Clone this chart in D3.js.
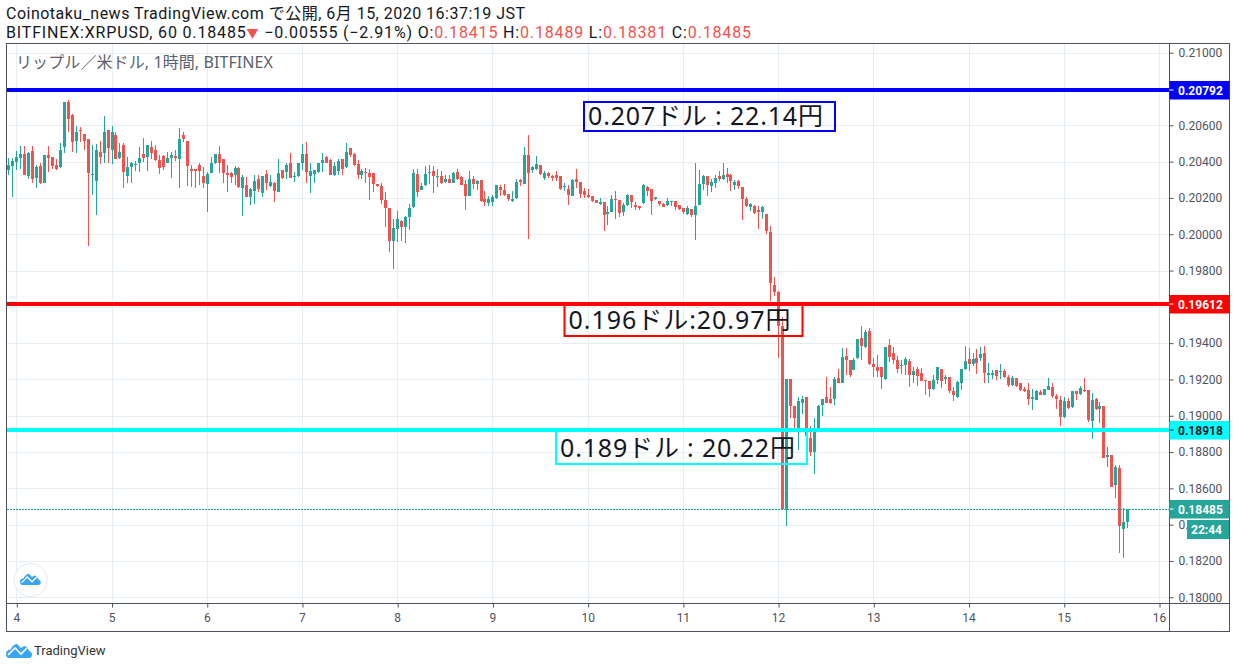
<!DOCTYPE html>
<html>
<head>
<meta charset="utf-8">
<title>XRPUSD</title>
<script src="https://cdn.jsdelivr.net/npm/d3@7"></script>
<style>
  html, body { margin: 0; padding: 0; background: #fff; }
  svg { display: block; }
  text { font-family: "Noto Sans", "Noto Sans CJK JP", sans-serif; }
  .header { font-family: Roboto, "Noto Sans CJK JP", sans-serif; font-size: 16px; }
  .axis text { font-family: Roboto, sans-serif; font-size: 12px; fill: #50535e; }
  .axis path, .axis line { stroke: #4c525e; }
</style>
</head>
<body>
<div id="chart"></div>
<script>
// hourly candles as [open, high, low, close] in 0.00001 dollar units
const day3 = [
  [20353,20421,20329,20381],[20377,20421,20206,20403]
];
const day4 = [
  [20399,20458,20353,20423],[20419,20485,20357,20441],[20441,20487,20326,20326],[20320,20454,20307,20449],
  [20458,20485,20280,20307],[20311,20381,20256,20372],[20375,20390,20276,20280],[20283,20436,20283,20436],
  [20436,20485,20344,20421],[20423,20423,20357,20377],[20381,20412,20353,20357],[20368,20500,20366,20463],
  [20482,20728,20449,20728],[20728,20739,20564,20636],[20656,20660,20454,20509],[20513,20596,20449,20563],
  [20574,20588,20509,20570],[20550,20550,20463,20513],[20524,20524,19934,20338],[20324,20491,20215,20333],
  [20292,20495,20105,20463],[20454,20513,20386,20427],[20449,20651,20390,20563],[20574,20574,20390,20473]
];
const day5 = [
  [20463,20596,20386,20565],[20546,20564,20416,20416],[20419,20500,20416,20452],[20494,20500,20256,20344],
  [20322,20427,20280,20368],[20372,20399,20283,20395],[20384,20405,20349,20388],[20394,20482,20344,20419],
  [20441,20528,20399,20421],[20427,20491,20349,20491],[20482,20515,20412,20449],[20463,20491,20405,20408],
  [20408,20436,20331,20366],[20432,20436,20353,20372],[20395,20454,20390,20421],[20421,20454,20311,20436],
  [20430,20463,20403,20421],[20416,20583,20256,20524],[20546,20561,20509,20522],[20513,20513,20265,20375],
  [20357,20384,20261,20349],[20357,20357,20256,20348],[20381,20390,20270,20348],[20322,20372,20252,20283]
];
const day6 = [
  [20276,20344,20123,20331],[20338,20427,20335,20394],[20390,20441,20386,20441],[20441,20485,20335,20394],
  [20412,20412,20283,20335],[20338,20381,20234,20329],[20335,20344,20280,20316],[20326,20375,20270,20366],
  [20366,20372,20252,20261],[20256,20329,20100,20316],[20270,20316,20206,20206],[20206,20252,20160,20247],
  [20239,20326,20169,20291],[20307,20326,20234,20250],[20228,20322,20206,20322],[20331,20353,20243,20280],
  [20267,20326,20261,20289],[20280,20285,20179,20237],[20234,20414,20234,20337],[20353,20353,20303,20309],
  [20344,20395,20303,20381],[20395,20450,20311,20311],[20316,20344,20289,20320],[20320,20395,20316,20395]
];
const day7 = [
  [20394,20496,20353,20441],[20441,20507,20280,20344],[20322,20395,20228,20346],[20331,20353,20283,20353],
  [20342,20394,20340,20394],[20394,20445,20344,20408],[20427,20430,20390,20395],[20408,20412,20326,20326],
  [20326,20399,20322,20377],[20348,20412,20326,20401],[20412,20412,20326,20359],[20368,20500,20366,20452],
  [20474,20476,20427,20436],[20441,20445,20377,20384],[20386,20408,20303,20326],[20326,20362,20303,20348],
  [20344,20366,20283,20338],[20337,20362,20188,20316],[20335,20338,20234,20276],[20276,20276,20261,20265],
  [20265,20283,20166,20188],[20191,20234,20041,20142],[20142,20142,19903,19962],[19964,20083,19808,20037]
];
const day8 = [
  [20030,20129,19958,20083],[20074,20078,19964,20041],[20041,20100,19953,20096],[20096,20166,20022,20147],
  [20151,20362,20147,20335],[20331,20357,20206,20234],[20246,20283,20242,20268],[20270,20378,20264,20334],
  [20341,20384,20277,20345],[20351,20378,20228,20319],[20316,20360,20259,20323],[20323,20347,20279,20283],
  [20290,20329,20283,20305],[20307,20329,20281,20283],[20283,20343,20283,20338],[20345,20360,20301,20305],
  [20316,20323,20270,20273],[20279,20301,20136,20213],[20213,20347,20213,20305],[20307,20323,20250,20279],
  [20277,20297,20246,20292],[20297,20297,20178,20182],[20196,20240,20154,20176],[20172,20209,20154,20196]
];
const day9 = [
  [20178,20218,20154,20205],[20198,20273,20194,20270],[20259,20270,20213,20242],[20246,20277,20213,20218],
  [20222,20222,20182,20194],[20185,20237,20178,20194],[20200,20305,20194,20288],[20301,20305,20264,20286],
  [20279,20479,20279,20439],[20439,20549,19976,20338],[20352,20378,20338,20371],[20360,20430,20356,20389],
  [20384,20384,20329,20332],[20310,20347,20301,20338],[20338,20341,20310,20319],[20323,20329,20292,20310],
  [20327,20347,20292,20310],[20319,20323,20246,20248],[20259,20283,20237,20268],[20251,20273,20163,20215],
  [20213,20305,20213,20301],[20305,20362,20255,20288],[20288,20288,20200,20224],[20237,20255,20200,20215]
];
const day10 = [
  [20218,20250,20200,20205],[20209,20209,20176,20182],[20187,20191,20172,20172],[20167,20200,20163,20178],
  [20178,20178,20016,20108],[20112,20154,20049,20123],[20123,20215,20121,20196],[20194,20237,20084,20187],
  [20191,20191,20095,20117],[20121,20172,20103,20163],[20160,20224,20158,20218],[20216,20218,20145,20178],
  [20160,20176,20132,20150],[20154,20158,20132,20145],[20172,20279,20169,20270],[20261,20264,20213,20237],
  [20251,20251,20108,20182],[20194,20204,20191,20204],[20185,20185,20154,20167],[20169,20172,20150,20150],
  [20160,20200,20158,20182],[20178,20185,20154,20185],[20182,20185,20132,20150],[20160,20163,20136,20141]
];
const day11 = [
  [20145,20145,20114,20121],[20114,20158,20108,20145],[20141,20141,20095,20108],[20108,20393,19970,20158],
  [20163,20356,20160,20277],[20277,20325,20246,20323],[20323,20323,20213,20270],[20268,20305,20231,20286],
  [20283,20329,20255,20310],[20323,20347,20292,20305],[20305,20393,20297,20329],[20334,20365,20283,20314],
  [20329,20334,20240,20292],[20270,20301,20246,20288],[20295,20297,20251,20264],[20261,20261,20081,20196],
  [20196,20204,20150,20154],[20150,20172,20127,20169],[20154,20163,20114,20117],[20132,20158,20031,20123],
  [20123,20154,20084,20150],[20114,20114,20003,20016],[20013,20047,19631,19732],[19721,19763,19658,19682]
];
const day12 = [
  [19683,19690,19317,19492],[19496,19543,18485,18485],[18485,19202,18393,19202],[19202,19202,18987,19055],
  [19055,19055,18932,18987],[18913,19102,18809,19082],[19073,19110,19011,19093],[19104,19104,18891,18891],
  [18877,18941,18781,18803],[18803,18987,18680,18910],[18932,19060,18932,19055],[19057,19093,18996,19093],
  [19104,19213,19073,19073],[19093,19158,19066,19069],[19090,19213,19060,19204],[19207,19257,19180,19181],
  [19183,19376,19183,19323],[19330,19372,19226,19308],[19305,19305,19213,19226],[19253,19317,19253,19305],
  [19316,19424,19312,19424],[19429,19496,19305,19382],[19378,19470,19373,19459],[19468,19483,19281,19284]
];
const day13 = [
  [19284,19317,19211,19266],[19268,19336,19213,19248],[19268,19268,19148,19211],[19204,19380,19198,19380],
  [19391,19422,19294,19321],[19345,19378,19286,19308],[19305,19327,19238,19259],[19277,19305,19231,19281],
  [19277,19321,19226,19314],[19303,19314,19156,19226],[19226,19268,19183,19248],[19255,19268,19165,19220],
  [19237,19262,19189,19193],[19198,19198,19115,19194],[19193,19193,19101,19148],[19148,19226,19143,19198],
  [19198,19268,19174,19268],[19257,19257,19152,19193],[19205,19226,19174,19213],[19211,19211,19128,19139],
  [19137,19161,19084,19115],[19102,19193,19097,19187],[19183,19259,19143,19259],[19259,19385,19253,19303]
];
const day14 = [
  [19314,19372,19244,19286],[19286,19345,19275,19314],[19317,19367,19231,19293],[19316,19378,19299,19341],
  [19347,19385,19183,19237],[19226,19290,19180,19237],[19226,19253,19202,19235],[19253,19253,19198,19220],
  [19243,19286,19203,19249],[19247,19256,19210,19216],[19214,19225,19157,19170],[19170,19219,19166,19208],
  [19208,19208,19157,19164],[19179,19179,19137,19142],[19148,19161,19129,19137],[19142,19179,19061,19093],
  [19093,19146,19032,19104],[19089,19142,19087,19139],[19131,19142,19115,19117],[19117,19148,19115,19148],
  [19142,19208,19142,19164],[19157,19179,19098,19109],[19109,19120,19036,19093],[19087,19109,18946,18995]
];
const day15 = [
  [18992,19106,18990,19082],[19082,19100,19036,19045],[19047,19137,19041,19137],[19137,19137,19087,19120],
  [19120,19164,19115,19155],[19142,19208,19131,19137],[19142,19142,18968,18977],[18973,19128,18872,19087],
  [19095,19098,19032,19036],[19036,19078,18962,19054],[19054,19054,18766,18766],[18775,18830,18720,18784],
  [18784,18784,18610,18610],[18619,18729,18549,18720],[18714,18729,18246,18395],[18376,18490,18218,18415],
  [18415,18489,18381,18485]
];

const dayTicks = [4, 5, 6, 7, 8, 9, 10, 11, 12, 13, 14, 15, 16];
const priceTicks = [0.18, 0.182, 0.184, 0.186, 0.188, 0.19, 0.192, 0.194, 0.196, 0.198, 0.2, 0.202, 0.204, 0.206, 0.208, 0.21];
const lastPrice = 0.18485;
const levelPrices = [0.20792, 0.19612, 0.18918];
const levelColors = ['#0000ff', '#ff0000', '#00ffff'];
const levelTagText = ['#ffffff', '#ffffff', '#131722'];
const noteTexts = ['0.207ドル : 22.14円', '0.196ドル:20.97円', '0.189ドル : 20.22円'];

const green = '#26a69a';
const red = '#ef5350';
const gridColor = '#e6eef4';
const frameColor = '#4c525e';

const width = 1236, height = 669;
const plot = {left: 6.5, right: 1169.5, top: 43.5, bottom: 603.5, axisBottom: 631.5, axisRight: 1229.5};

// flatten the day rows; first candle sits two hours before the 4th
const candles = [day3, day4, day5, day6, day7, day8, day9, day10, day11, day12, day13, day14, day15]
  .flat()
  .map((row, i) => ({hour: i - 2, open: row[0] / 1e5, high: row[1] / 1e5, low: row[2] / 1e5, close: row[3] / 1e5}));

const x = d3.scaleLinear().domain([4, 16]).range([16.3, 1159]);
const hourX = h => x(4 + h / 24);
const y = d3.scaleLinear().domain([0.18, 0.21]).range([597.3, 52.7]);

const svg = d3.select('#chart').append('svg')
  .attr('width', width)
  .attr('height', height);

svg.append('defs').append('clipPath').attr('id', 'plot-clip')
  .append('rect')
  .attr('x', plot.left).attr('y', plot.top)
  .attr('width', plot.right - plot.left).attr('height', plot.bottom - plot.top);

// Grid
const grid = svg.append('g').attr('clip-path', 'url(#plot-clip)').attr('shape-rendering', 'crispEdges');
grid.selectAll('line.v').data(dayTicks).enter().append('line')
  .attr('class', 'v')
  .attr('x1', d => Math.round(x(d)) + 0.5).attr('x2', d => Math.round(x(d)) + 0.5)
  .attr('y1', plot.top).attr('y2', plot.bottom)
  .attr('stroke', gridColor);
grid.selectAll('line.h').data(priceTicks).enter().append('line')
  .attr('class', 'h')
  .attr('y1', d => Math.round(y(d)) + 0.5).attr('y2', d => Math.round(y(d)) + 0.5)
  .attr('x1', plot.left).attr('x2', plot.right)
  .attr('stroke', gridColor);

// Candles
const candleG = svg.append('g').attr('clip-path', 'url(#plot-clip)').attr('shape-rendering', 'crispEdges');
const candleColor = d => d.close >= d.open ? green : red;
candleG.selectAll('rect.wick').data(candles).enter().append('rect')
  .attr('class', 'wick')
  .attr('x', d => Math.round(hourX(d.hour)))
  .attr('width', 1)
  .attr('y', d => y(d.high))
  .attr('height', d => y(d.low) - y(d.high))
  .attr('fill', candleColor);
candleG.selectAll('rect.body').data(candles).enter().append('rect')
  .attr('class', 'body')
  .attr('x', d => Math.round(hourX(d.hour)) - 1)
  .attr('width', 3)
  .attr('y', d => y(Math.max(d.open, d.close)))
  .attr('height', d => Math.max(1, Math.abs(y(d.open) - y(d.close))))
  .attr('fill', candleColor);

// Current price line
svg.append('line')
  .attr('x1', plot.left).attr('x2', plot.right)
  .attr('y1', Math.round(y(lastPrice)) + 0.5).attr('y2', Math.round(y(lastPrice)) + 0.5)
  .attr('stroke', green)
  .attr('stroke-dasharray', '2,1')
  .attr('shape-rendering', 'crispEdges');

// Horizontal levels
svg.selectAll('line.level').data(levelPrices).enter().append('line')
  .attr('class', 'level')
  .attr('x1', plot.left).attr('x2', plot.right)
  .attr('y1', d => Math.floor(y(d))).attr('y2', d => Math.floor(y(d)))
  .attr('stroke', (d, i) => levelColors[i])
  .attr('stroke-width', 4)
  .attr('shape-rendering', 'crispEdges');

// Axes
const xAxis = svg.append('g')
  .attr('class', 'axis')
  .attr('transform', `translate(0,${plot.bottom})`)
  .call(d3.axisBottom(x).tickValues(dayTicks).tickFormat(d => d).tickSize(4).tickPadding(6));
xAxis.select('.domain').remove();
xAxis.selectAll('line').attr('x1', 0.5).attr('x2', 0.5);
xAxis.selectAll('text').style('font-size', '12px');

// the 22:44 box leaves only the start of the 0.18400 label showing
const yAxis = svg.append('g')
  .attr('class', 'axis')
  .attr('transform', `translate(${plot.right},0)`)
  .call(d3.axisRight(y)
    .tickValues(priceTicks.filter(d => d !== 0.196 && d !== 0.208))
    .tickFormat(d => d === 0.184 ? '0.' : d.toFixed(5))
    .tickSize(4)
    .tickPadding(5));
yAxis.select('.domain').remove();
yAxis.selectAll('text').style('font-size', '12px');

// Frame
svg.append('rect')
  .attr('x', plot.left).attr('y', plot.top)
  .attr('width', plot.axisRight - plot.left).attr('height', plot.axisBottom - plot.top)
  .attr('fill', 'none').attr('stroke', frameColor);
svg.append('line')
  .attr('x1', plot.left).attr('x2', plot.axisRight)
  .attr('y1', plot.bottom).attr('y2', plot.bottom)
  .attr('stroke', frameColor);
svg.append('line')
  .attr('x1', plot.right).attr('x2', plot.right)
  .attr('y1', plot.top).attr('y2', plot.axisBottom)
  .attr('stroke', frameColor);

// Price tags on the axis
function priceTag(price, fill, textFill, label) {
  const cy = Math.floor(y(price));
  svg.append('rect')
    .attr('x', plot.right).attr('y', cy - 9)
    .attr('width', plot.axisRight - plot.right).attr('height', 18.5)
    .attr('fill', fill);
  svg.append('line')
    .attr('x1', plot.right).attr('x2', plot.right + 4)
    .attr('y1', cy).attr('y2', cy)
    .attr('stroke', textFill);
  svg.append('text')
    .attr('x', plot.right + 8.5).attr('y', cy + 4.5)
    .attr('fill', textFill)
    .style('font-family', 'Roboto, sans-serif')
    .style('font-size', '12px')
    .style('font-weight', 700)
    .text(label);
}
levelPrices.forEach((p, i) => priceTag(p, levelColors[i], levelTagText[i], p.toFixed(5)));
priceTag(lastPrice, green, '#ffffff', lastPrice.toFixed(5));

// Countdown
svg.append('rect')
  .attr('x', 1187).attr('y', 520)
  .attr('width', 42).attr('height', 19)
  .attr('fill', green);
svg.append('text')
  .attr('x', 1191).attr('y', 534)
  .attr('fill', '#fff')
  .style('font-family', 'Roboto, sans-serif')
  .style('font-size', '12px')
  .style('font-weight', 700)
  .text('22:44');

// Text notes with coloured boxes
const noteBoxes = [
  {x: 584, y: 102, w: 251, h: 29},
  {x: 564.5, y: 305, w: 238, h: 31},
  {x: 556, y: 431, w: 251, h: 33}
];
const noteBaselines = [125, 329, 457];
const noteLengths = [235, 222, 235];
noteBoxes.forEach((b, i) => {
  svg.append('rect')
    .attr('x', b.x).attr('y', b.y)
    .attr('width', b.w).attr('height', b.h)
    .attr('fill', 'none')
    .attr('stroke', levelColors[i])
    .attr('stroke-width', 2);
  svg.append('text')
    .attr('x', b.x + 4).attr('y', noteBaselines[i])
    .attr('fill', '#131722')
    .attr('textLength', noteLengths[i])
    .style('font-size', '25px')
    .text(noteTexts[i]);
});

// Header
svg.append('text')
  .attr('class', 'header')
  .attr('x', 6).attr('y', 19)
  .attr('fill', '#131722')
  .attr('textLength', 519)
  .text('Coinotaku_news TradingView.com で公開, 6月 15, 2020 16:37:19 JST');

const header2 = svg.append('text')
  .attr('class', 'header')
  .attr('x', 6).attr('y', 38)
  .attr('fill', '#131722')
  .attr('textLength', 745);
[
  ['BITFINEX:XRPUSD, 60 0.18485', '#131722'],
  ['▼', red],
  [' −0.00555 (−2.91%) O:', '#131722'],
  ['0.18415', red],
  [' H:', '#131722'],
  ['0.18489', red],
  [' L:', '#131722'],
  ['0.18381', red],
  [' C:', '#131722'],
  ['0.18485', red]
].forEach(part => header2.append('tspan')
  .attr('fill', part[1])
  .style('font-size', part[0] === '▼' ? '12px' : null)
  .text(part[0]));

svg.append('text')
  .attr('x', 16).attr('y', 68)
  .attr('fill', '#5d606b')
  .attr('textLength', 257)
  .style('font-size', '16px')
  .text('リップル／米ドル, 1時間, BITFINEX');

// TradingView marks
const cloud = 'M0 11 C0 8 2 6.5 4.5 6.5 C6 3 9 1 11 1 L15 5 L18 3 C20 3 23 6 23 8 C25 8.5 26 10 26 12 C26 14 24.5 15 23 15 L3 15 C1 15 0 13 0 11 Z';
const zigzag = 'M2 12 L9 5 L15 11 L21 5';
function tvLogo(tx, ty, scale) {
  const g = svg.append('g').attr('transform', `translate(${tx},${ty}) scale(${scale})`);
  g.append('path').attr('d', cloud).attr('fill', '#39a5f5');
  g.append('path').attr('d', zigzag).attr('fill', 'none').attr('stroke', '#fff').attr('stroke-width', 1.6);
}
svg.append('circle')
  .attr('cx', 30.5).attr('cy', 580)
  .attr('r', 16.5)
  .attr('fill', '#fff')
  .attr('stroke', '#e6e8ea')
  .attr('stroke-width', 1);
tvLogo(20, 573, 0.8);
tvLogo(6, 643, 1);
svg.append('text')
  .attr('x', 34).attr('y', 655)
  .attr('fill', '#333')
  .style('font-family', 'Roboto, sans-serif')
  .style('font-size', '13px')
  .text('TradingView');
</script>
</body>
</html>
